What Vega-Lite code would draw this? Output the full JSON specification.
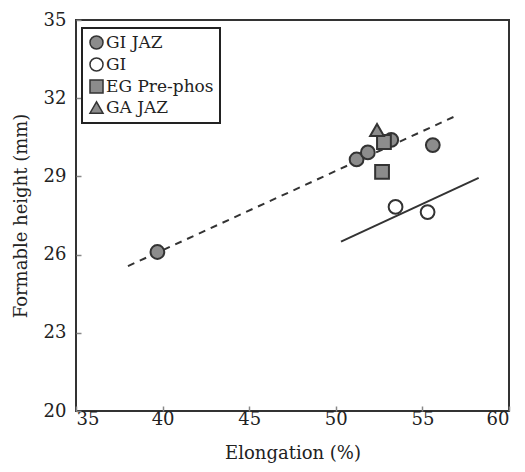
{
  "$schema": "https://vega.github.io/schema/vega-lite/v6.json",
  "width": 433,
  "height": 391,
  "autosize": "none",
  "padding": {"left": 76, "top": 20, "right": 16, "bottom": 61},
  "background": "white",
  "config": {
    "view": {"stroke": "#333", "strokeWidth": 2},
    "font": "DejaVu Serif",
    "legend": {"strokeColor": "#222", "strokeWidth": 2, "fillColor": "white", "padding": 6},
    "axis": {
      "grid": false,
      "domain": false,
      "tickSize": -5,
      "tickColor": "#888",
      "tickWidth": 1.5,
      "labelColor": "#222",
      "titleFontWeight": "normal",
      "titleColor": "#222"
    }
  },
  "datasets": {
    "pts": [
      {"elong": 39.7, "height": 26.1, "series": "GI JAZ"},
      {"elong": 51.2, "height": 29.65, "series": "GI JAZ"},
      {"elong": 51.85, "height": 29.92, "series": "GI JAZ"},
      {"elong": 53.2, "height": 30.4, "series": "GI JAZ"},
      {"elong": 55.6, "height": 30.2, "series": "GI JAZ"},
      {"elong": 53.45, "height": 27.83, "series": "GI"},
      {"elong": 55.3, "height": 27.63, "series": "GI"},
      {"elong": 52.78, "height": 30.32, "series": "EG Pre-phos"},
      {"elong": 52.67, "height": 29.17, "series": "EG Pre-phos"},
      {"elong": 52.38, "height": 30.78, "series": "GA JAZ"}
    ],
    "lines": [
      {"elong": 38.0, "height": 25.56, "line": "fit GI JAZ"},
      {"elong": 56.8, "height": 31.28, "line": "fit GI JAZ"},
      {"elong": 50.3, "height": 26.5, "line": "fit GI"},
      {"elong": 58.25, "height": 28.94, "line": "fit GI"}
    ]
  },
  "layer": [
    {
      "data": {"name": "lines"},
      "transform": [{"filter": "datum.line == 'fit GI JAZ'"}],
      "mark": {"type": "line", "color": "#333", "strokeWidth": 2, "strokeDash": [7, 6]},
      "encoding": {
        "x": {"field": "elong", "type": "quantitative", "scale": {"domain": [35, 60], "nice": false, "zero": false},
          "axis": {"values": [35, 40, 45, 50, 55, 60], "title": "Elongation (%)", "labelPadding": 4, "titlePadding": 16,
            "labelFont": "DejaVu Serif", "labelFontSize": 18, "titleFont": "DejaVu Serif", "titleFontSize": 18}},
        "y": {"field": "height", "type": "quantitative", "scale": {"domain": [20, 35], "nice": false, "zero": false},
          "axis": {"values": [20, 23, 26, 29, 32, 35], "title": "Formable height (mm)", "labelPadding": 15, "titlePadding": 13,
            "labelFont": "DejaVu Serif", "labelFontSize": 18, "titleFont": "DejaVu Serif", "titleFontSize": 18}}
      }
    },
    {
      "data": {"name": "lines"},
      "transform": [{"filter": "datum.line == 'fit GI'"}],
      "mark": {"type": "line", "color": "#333", "strokeWidth": 2},
      "encoding": {
        "x": {"field": "elong", "type": "quantitative"},
        "y": {"field": "height", "type": "quantitative"}
      }
    },
    {
      "data": {"name": "pts"},
      "mark": {"type": "point", "filled": true, "stroke": "#333", "strokeWidth": 2, "size": 190, "opacity": 1},
      "encoding": {
        "x": {"field": "elong", "type": "quantitative"},
        "y": {"field": "height", "type": "quantitative"},
        "shape": {"field": "series", "type": "nominal", "scale": {"domain": ["GI JAZ", "GI", "EG Pre-phos", "GA JAZ"], "range": ["circle", "circle", "square", "triangle-up"]}, "title": null,
          "legend": {"orient": "none", "legendX": 6, "legendY": 8, "labelFont": "DejaVu Serif", "labelFontSize": 17, "labelColor": "#222", "symbolSize": 170, "rowPadding": 1, "labelOffset": 1,
            "encode": {"symbols": {"update": {"stroke": {"value": "#333"}, "strokeWidth": {"value": 2}, "opacity": {"value": 1}}}}}},
        "fill": {"field": "series", "type": "nominal", "scale": {"domain": ["GI JAZ", "GI", "EG Pre-phos", "GA JAZ"], "range": ["#8c8c8c", "#ffffff", "#8c8c8c", "#8c8c8c"]}, "title": null}
      }
    }
  ]
}
